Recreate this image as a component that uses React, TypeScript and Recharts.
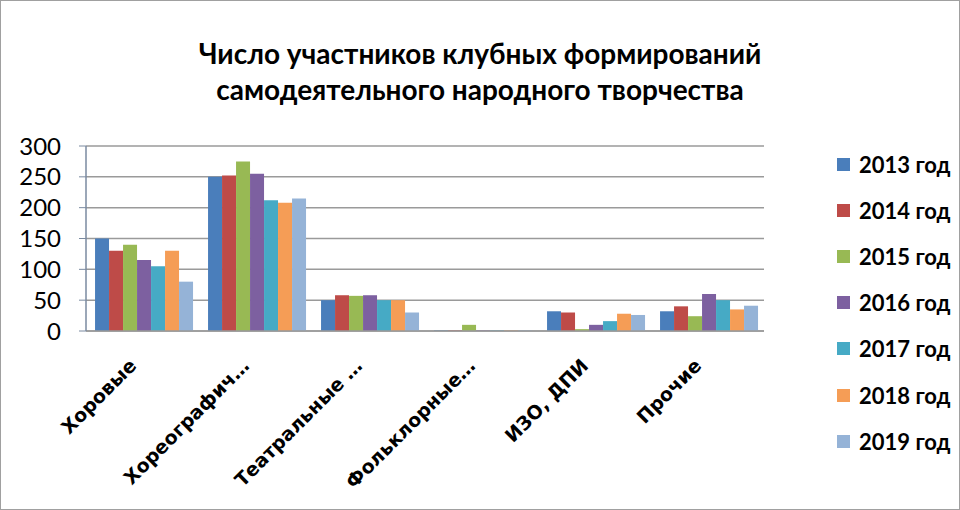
import { BarChart, Bar, XAxis, YAxis, CartesianGrid } from "recharts";

const categories = [
  "Хоровые",
  "Хореографич…",
  "Театральные …",
  "Фольклорные…",
  "ИЗО, ДПИ",
  "Прочие",
];

const years = ["2013 год", "2014 год", "2015 год", "2016 год", "2017 год", "2018 год", "2019 год"];

const y2013 = [150, 250, 50, 1, 32, 32];
const y2014 = [130, 252, 58, 1, 30, 40];
const y2015 = [140, 275, 57, 10, 3, 24];
const y2016 = [115, 255, 58, 1, 10, 60];
const y2017 = [105, 212, 50, 1, 16, 50];
const y2018 = [130, 208, 50, 1, 28, 35];
const y2019 = [80, 215, 30, 1, 26, 41];

const yTicks = [0, 50, 100, 150, 200, 250, 300];

const colors = ["#4A7EBB", "#BE4B48", "#98B954", "#7D60A0", "#46AAC5", "#F59D56", "#95B3D7"];

const series = [y2013, y2014, y2015, y2016, y2017, y2018, y2019];

const data = categories.map((name, i) => {
  const row: Record<string, string | number> = { name };
  years.forEach((yr, j) => {
    row[yr] = series[j][i];
  });
  return row;
});

function CategoryTick(props: any) {
  const { x, y, payload } = props;
  const ax = x - 5;
  const ay = y + 28;
  return (
    <text
      x={ax}
      y={ay}
      transform={`rotate(-45 ${ax} ${ay})`}
      textAnchor="end"
      fontFamily="DejaVu Sans"
      fontWeight="bold"
      fontSize={19}
      fill="#000"
    >
      {payload.value}
    </text>
  );
}

export default function App() {
  return (
    <div
      style={{
        position: "absolute",
        left: 0,
        top: 0,
        width: 958,
        height: 508,
        border: "1px solid #a0a0a0",
        background: "#fff",
        fontFamily: "Lato",
      }}
    >
      <div
        style={{
          position: "absolute",
          left: 0,
          top: 34,
          width: 958,
          textAlign: "center",
          fontFamily: "Lato",
          fontWeight: "bold",
          fontSize: 28,
          lineHeight: "36px",
          color: "#000",
        }}
      >
        Число участников клубных формирований
        <br />
        самодеятельного народного творчества
      </div>
      <div style={{ position: "absolute", left: 0, top: 0 }}>
        <BarChart
          width={958}
          height={508}
          data={data}
          margin={{ top: 145, right: 195, bottom: 148, left: 0 }}
          barCategoryGap="8%"
          barGap={0}
        >
          <CartesianGrid vertical={false} stroke="#9a9a9a" strokeWidth={1.5} />
          <XAxis
            dataKey="name"
            tick={<CategoryTick />}
            tickLine={false}
            axisLine={{ stroke: "#9a9a9a", strokeWidth: 1.5 }}
            interval={0}
            height={30}
          />
          <YAxis
            width={85}
            domain={[0, 300]}
            ticks={yTicks}
            interval={0}
            tick={{ fontFamily: "Lato", fontSize: 24, fill: "#000" }}
            tickSize={7}
            tickMargin={18}
            axisLine={{ stroke: "#7a8aa0", strokeWidth: 1.5 }}
            tickLine={{ stroke: "#7a8aa0" }}
          />
          {years.map((yr, j) => (
            <Bar key={yr} dataKey={yr} fill={colors[j]} isAnimationActive={false} />
          ))}
        </BarChart>
      </div>
      <div style={{ position: "absolute", left: 836, top: 140 }}>
        {years.map((yr, j) => (
          <div
            key={yr}
            style={{
              display: "flex",
              alignItems: "center",
              height: 46.2,
              fontFamily: "Lato",
              fontWeight: "bold",
              fontSize: 22,
              color: "#000",
            }}
          >
            <span
              style={{
                display: "inline-block",
                width: 13,
                height: 13,
                background: colors[j],
                marginRight: 9,
              }}
            />
            {yr}
          </div>
        ))}
      </div>
    </div>
  );
}
